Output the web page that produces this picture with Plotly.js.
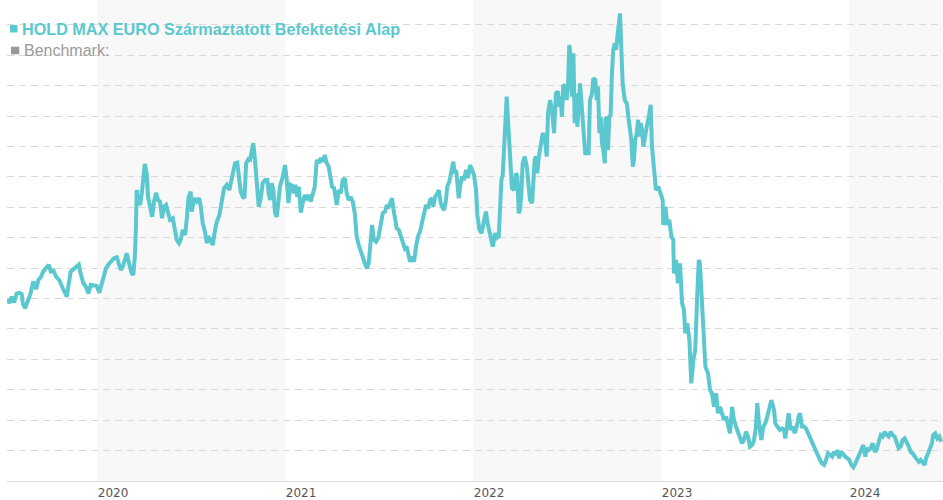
<!DOCTYPE html>
<html>
<head>
<meta charset="utf-8">
<script src="https://cdn.plot.ly/plotly-3.0.1.min.js"></script>
<style>
  html, body { margin: 0; padding: 0; background: #ffffff; }
  #chart { width: 943px; height: 500px; }
</style>
</head>
<body>
<div id="chart"></div>
<script>
// ---- data (decimal years, fund value in chart units) ----
const seriesName = "HOLD MAX EURO Származtatott Befektetési Alap";
const benchmarkName = "Benchmark:";

const years = [
2019.523,2019.534,2019.546,2019.559,2019.573,2019.587,2019.599,2019.605,2019.617,2019.629,
2019.644,2019.661,2019.676,2019.688,2019.701,2019.714,2019.732,2019.743,2019.754,2019.768,
2019.782,2019.799,2019.818,2019.839,2019.847,2019.860,2019.874,2019.888,2019.903,2019.910,
2019.927,2019.941,2019.954,2019.966,2019.984,2019.998,2020.012,2020.025,2020.037,2020.048,
2020.060,2020.078,2020.090,2020.105,2020.113,2020.126,2020.137,2020.147,2020.158,2020.172,
2020.185,2020.193,2020.201,2020.207,2020.211,2020.222,2020.229,2020.238,2020.246,2020.254,
2020.264,2020.271,2020.282,2020.293,2020.303,2020.314,2020.324,2020.335,2020.346,2020.356,
2020.367,2020.378,2020.388,2020.403,2020.413,2020.424,2020.436,2020.445,2020.456,2020.468,
2020.477,2020.486,2020.498,2020.504,2020.516,2020.530,2020.543,2020.552,2020.562,2020.574,
2020.584,2020.592,2020.605,2020.615,2020.628,2020.637,2020.651,2020.663,2020.676,2020.690,
2020.704,2020.711,2020.722,2020.734,2020.746,2020.757,2020.764,2020.775,2020.784,2020.793,
2020.805,2020.814,2020.824,2020.831,2020.840,2020.849,2020.860,2020.871,2020.881,2020.894,
2020.906,2020.913,2020.920,2020.929,2020.938,2020.947,2020.956,2020.964,2020.973,2020.988,
2021.000,2021.009,2021.018,2021.023,2021.030,2021.041,2021.048,2021.055,2021.065,2021.073,
2021.084,2021.094,2021.105,2021.115,2021.126,2021.137,2021.147,2021.158,2021.169,2021.179,
2021.190,2021.201,2021.211,2021.222,2021.232,2021.239,2021.250,2021.261,2021.268,2021.275,
2021.286,2021.296,2021.307,2021.318,2021.328,2021.339,2021.349,2021.360,2021.371,2021.381,
2021.392,2021.403,2021.413,2021.424,2021.435,2021.445,2021.452,2021.463,2021.473,2021.484,
2021.496,2021.509,2021.520,2021.532,2021.541,2021.549,2021.562,2021.569,2021.576,2021.585,
2021.594,2021.605,2021.615,2021.626,2021.637,2021.647,2021.656,2021.665,2021.676,2021.686,
2021.697,2021.707,2021.718,2021.729,2021.739,2021.750,2021.761,2021.771,2021.782,2021.789,
2021.798,2021.807,2021.818,2021.828,2021.839,2021.846,2021.856,2021.863,2021.874,2021.885,
2021.895,2021.903,2021.910,2021.917,2021.924,2021.931,2021.941,2021.952,2021.963,2021.973,
2021.984,2021.995,2022.005,2022.016,2022.023,2022.034,2022.046,2022.059,2022.069,2022.076,
2022.084,2022.094,2022.105,2022.117,2022.126,2022.137,2022.144,2022.151,2022.158,2022.165,
2022.172,2022.179,2022.186,2022.193,2022.201,2022.207,2022.218,2022.229,2022.236,2022.243,
2022.250,2022.257,2022.264,2022.275,2022.286,2022.293,2022.303,2022.314,2022.321,2022.328,
2022.335,2022.342,2022.350,2022.356,2022.362,2022.371,2022.381,2022.392,2022.399,2022.410,
2022.420,2022.431,2022.441,2022.452,2022.459,2022.466,2022.473,2022.480,2022.491,2022.498,
2022.505,2022.512,2022.520,2022.527,2022.534,2022.541,2022.548,2022.555,2022.562,2022.569,
2022.576,2022.584,2022.590,2022.597,2022.605,2022.615,2022.622,2022.633,2022.640,2022.651,
2022.658,2022.665,2022.672,2022.679,2022.686,2022.693,2022.701,2022.704,2022.711,2022.718,
2022.725,2022.732,2022.739,2022.746,2022.754,2022.761,2022.768,2022.775,2022.782,2022.789,
2022.796,2022.807,2022.818,2022.826,2022.835,2022.842,2022.850,2022.856,2022.863,2022.871,
2022.878,2022.885,2022.892,2022.899,2022.906,2022.913,2022.924,2022.935,2022.945,2022.952,
2022.963,2022.973,2022.986,2022.998,2023.009,2023.012,2023.023,2023.034,2023.044,2023.055,
2023.065,2023.069,2023.080,2023.090,2023.101,2023.112,2023.122,2023.129,2023.140,2023.151,
2023.161,2023.172,2023.182,2023.193,2023.201,2023.207,2023.218,2023.229,2023.236,2023.250,
2023.261,2023.271,2023.282,2023.293,2023.303,2023.314,2023.324,2023.335,2023.346,2023.356,
2023.367,2023.378,2023.388,2023.399,2023.410,2023.420,2023.431,2023.441,2023.452,2023.463,
2023.473,2023.484,2023.495,2023.505,2023.512,2023.523,2023.534,2023.544,2023.555,2023.565,
2023.576,2023.587,2023.601,2023.608,2023.619,2023.633,2023.644,2023.654,2023.661,2023.672,
2023.679,2023.690,2023.701,2023.711,2023.722,2023.732,2023.739,2023.750,2023.761,2023.771,
2023.782,2023.793,2023.803,2023.814,2023.824,2023.835,2023.846,2023.856,2023.867,2023.878,
2023.888,2023.899,2023.910,2023.920,2023.931,2023.938,2023.948,2023.959,2023.970,2023.980,
2023.991,2024.002,2024.012,2024.023,2024.034,2024.044,2024.055,2024.065,2024.076,2024.087,
2024.094,2024.105,2024.115,2024.126,2024.137,2024.147,2024.158,2024.169,2024.179,2024.190,
2024.201,2024.211,2024.222,2024.232,2024.243,2024.254,2024.264,2024.275,2024.286,2024.296,
2024.307,2024.318,2024.328,2024.339,2024.350,2024.360,2024.371,2024.381,2024.392,2024.403,
2024.410,2024.420,2024.431,2024.441,2024.448,2024.459,2024.470,2024.480,2024.491
];

const values = [
59.8,58.5,60.6,58.7,61.7,61.9,61.5,58.5,56.8,59.0,
61.2,65.6,63.1,66.1,67.0,68.9,70.0,71.1,68.9,69.2,
67.2,66.1,63.4,60.6,63.9,68.9,69.6,70.5,71.1,68.9,
65.0,63.9,61.7,64.5,64.1,64.1,61.9,65.0,67.8,70.0,
71.1,72.7,73.3,73.6,71.8,69.4,70.5,72.5,74.9,71.1,
68.3,67.8,73.8,83.7,95.7,91.4,90.8,94.6,99.0,104.3,
101.2,93.5,90.2,86.9,91.9,94.8,92.4,91.9,86.4,90.2,
90.8,87.5,85.9,86.4,82.0,79.3,78.2,79.3,82.6,80.9,
85.9,93.0,95.2,88.6,93.0,91.9,93.0,90.2,84.8,82.0,
78.2,80.4,79.3,77.6,82.6,85.3,87.5,92.4,96.3,97.4,
95.7,97.9,100.7,104.5,104.7,100.1,95.2,93.5,93.0,104.5,
105.8,105.6,108.9,111.1,105.6,100.1,90.2,93.0,97.9,99.0,
99.0,94.6,92.4,97.9,95.7,88.1,86.9,91.4,96.8,100.1,
103.9,99.0,91.4,94.6,97.4,97.0,94.6,97.4,93.5,96.8,
88.3,91.4,94.1,92.4,94.1,91.9,94.6,96.8,105.6,104.5,
106.2,105.0,107.2,104.5,103.4,100.1,96.8,96.3,93.0,90.8,
95.7,94.6,99.0,99.6,94.6,92.4,93.5,91.9,88.1,80.4,
77.6,76.0,73.8,71.6,70.0,71.6,78.2,84.2,79.3,78.7,
79.9,83.7,88.1,88.6,90.8,89.7,91.4,93.0,89.7,85.9,
83.1,82.6,80.9,78.7,76.5,77.1,73.8,72.1,73.8,72.1,
77.1,80.4,82.0,85.3,88.6,90.8,89.7,92.4,93.0,90.2,
93.5,94.1,95.7,91.4,89.7,89.1,92.4,96.8,98.5,102.3,
105.0,101.2,102.3,97.9,93.0,96.8,100.1,99.0,102.3,99.6,
103.9,102.3,100.7,95.7,87.5,82.6,81.5,85.9,88.6,85.2,
82.6,79.3,77.1,81.5,79.9,80.4,92.4,99.0,100.7,110.0,
113.3,126.4,118.8,110.0,102.3,96.3,95.7,101.2,100.1,88.1,
89.1,94.6,104.5,106.7,103.4,96.8,92.4,91.4,96.8,105.6,
106.7,101.2,106.7,108.9,110.0,114.4,113.2,106.7,121.0,125.3,
122.0,114.4,127.5,128.1,123.1,126.4,119.8,130.3,129.7,125.3,
129.7,143.4,139.6,126.4,140.7,117.7,127.5,116.5,123.1,130.8,
125.3,114.4,113.3,107.8,107.8,107.8,125.3,127.5,132.5,131.9,
125.3,129.7,114.4,119.8,111.1,108.9,104.5,118.8,119.8,108.9,
119.8,120.4,134.1,141.8,144.0,141.8,146.2,149.4,153.8,141.8,
130.8,125.3,124.2,119.8,116.5,112.2,103.4,105.6,112.2,114.4,
118.8,113.3,117.7,115.5,110.0,113.3,116.5,119.8,123.7,110.0,
101.2,95.7,96.8,94.6,92.4,84.2,90.2,84.2,85.9,80.4,
79.3,68.3,72.7,65.0,71.6,58.5,56.3,48.6,51.9,46.4,
32.1,39.8,43.1,61.7,72.7,71.6,59.5,47.5,37.6,35.4,
29.9,28.8,24.4,28.8,22.3,24.4,22.3,20.1,21.2,17.9,
15.7,24.4,20.1,17.9,15.7,14.6,12.4,13.5,16.2,14.6,
11.3,11.8,13.5,17.9,25.6,17.9,13.5,17.9,19.0,21.2,
23.4,26.6,23.4,19.0,17.9,16.8,17.3,16.8,14.0,17.9,
22.3,16.8,17.9,15.7,17.9,21.2,22.3,17.9,17.9,17.3,
15.7,14.0,12.9,11.3,9.6,8.6,6.9,5.8,5.3,6.9,
9.1,8.6,8.0,9.6,8.6,10.2,7.5,9.6,8.6,8.0,
7.5,6.9,5.3,4.5,5.8,7.5,8.6,10.2,11.8,8.0,
10.8,10.2,10.8,12.4,9.6,10.2,12.9,15.1,14.6,16.2,
15.1,14.6,16.2,15.1,14.6,12.9,10.8,11.3,13.5,14.0,
12.9,11.3,9.6,9.1,8.0,6.9,6.3,6.9,5.8,5.3,
7.5,9.6,10.8,12.4,15.1,15.7,14.0,14.6,12.9
];

const tickYears = [2020, 2021, 2022, 2023, 2024];
const tickLabels = ["2020", "2021", "2022", "2023", "2024"];
const shadedYears = [2020, 2022, 2024];

// ---- styling ----
const TEAL = "#5BC8CF";
const GREY = "#9a9a9a";
const xRange = [2019.521, 2024.5];
const yRange = [0, 158.2];

const trace = {
  x: years,
  y: values,
  type: "scatter",
  mode: "lines",
  line: { color: TEAL, width: 4, shape: "linear" },
  hoverinfo: "skip",
  showlegend: false
};

const shapes = shadedYears.map(y0 => ({
  type: "rect", xref: "x", yref: "paper",
  x0: y0, x1: Math.min(y0 + 1, xRange[1]), y0: 0, y1: 1,
  fillcolor: "rgba(245,245,245,0.66)", line: { width: 0 }, layer: "between"
}));

// legend squares
shapes.push({
  type: "rect", xref: "paper", yref: "paper",
  xsizemode: "pixel", ysizemode: "pixel", xanchor: 0, yanchor: 1,
  x0: 3, x1: 10.5, y0: -25, y1: -32.5,
  fillcolor: TEAL, line: { width: 0 }, layer: "above"
});
shapes.push({
  type: "rect", xref: "paper", yref: "paper",
  xsizemode: "pixel", ysizemode: "pixel", xanchor: 0, yanchor: 1,
  x0: 4, x1: 12.3, y0: -46.7, y1: -54.3,
  fillcolor: GREY, line: { width: 0 }, layer: "above"
});

const layout = {
  width: 943, height: 500,
  margin: { l: 7, r: 0, t: 0, b: 19, pad: 0 },
  paper_bgcolor: "#ffffff",
  plot_bgcolor: "#ffffff",
  showlegend: false,
  xaxis: {
    type: "linear",
    range: xRange,
    tickmode: "array",
    tickvals: tickYears,
    ticktext: tickLabels,
    showgrid: false,
    zeroline: false,
    showline: true,
    linecolor: "#dcdcdc",
    linewidth: 1,
    ticks: "",
    ticklabelshift: 16,
    ticklabelstandoff: 1,
    tickfont: { family: "DejaVu Sans", size: 12, color: "#555555" }
  },
  yaxis: {
    range: yRange,
    tick0: 0,
    dtick: 10,
    showticklabels: false,
    ticks: "",
    showgrid: true,
    gridcolor: "#d9d9d9",
    gridwidth: 1,
    griddash: "7px,5px",
    zeroline: false,
    showline: false
  },
  shapes: shapes,
  annotations: [
    {
      text: "<b>" + seriesName + "</b>",
      xref: "paper", yref: "paper", x: 0, y: 1,
      xanchor: "left", yanchor: "middle",
      xshift: 13, yshift: -29,
      showarrow: false,
      font: { family: "Liberation Sans, Arial, sans-serif", size: 16.2, color: TEAL }
    },
    {
      text: benchmarkName,
      xref: "paper", yref: "paper", x: 0, y: 1,
      xanchor: "left", yanchor: "middle",
      xshift: 15, yshift: -50,
      showarrow: false,
      font: { family: "Liberation Sans, Arial, sans-serif", size: 16, color: GREY }
    }
  ]
};

Plotly.newPlot("chart", [trace], layout, { staticPlot: true, displayModeBar: false });
</script>
</body>
</html>
